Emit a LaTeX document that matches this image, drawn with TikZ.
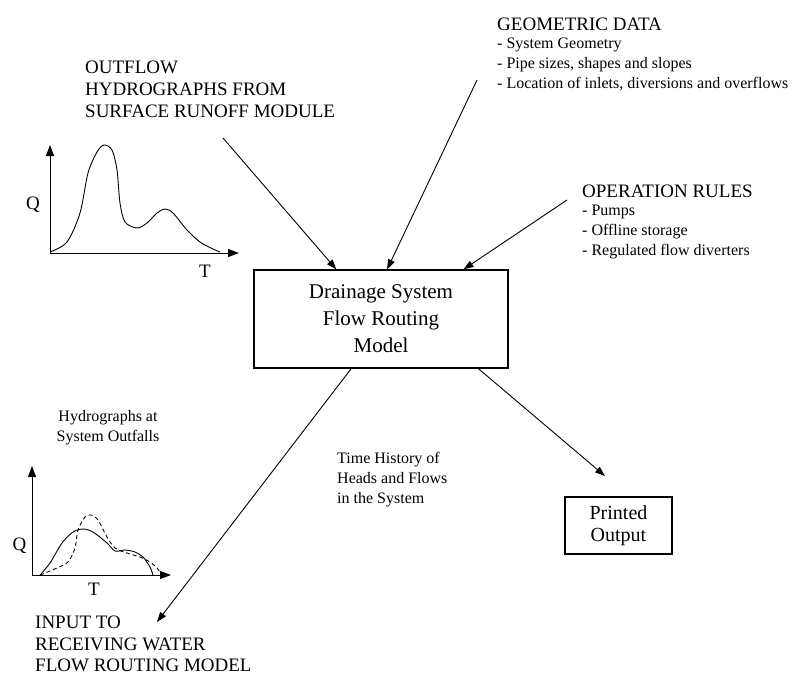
\documentclass[tikz,border=0pt]{standalone}
\usepackage{fontspec}
\setmainfont{Liberation Serif}
\usetikzlibrary{positioning,arrows.meta}

\begin{document}
\begin{tikzpicture}[x=1pt, y=-1pt,
        box/.style={rectangle, draw, line width=1.2pt, align=center, inner sep=0pt},
        caps/.style={font=\fontsize{19}{22}\selectfont, align=left, inner sep=0pt, anchor=north west},
        small/.style={font=\fontsize{16}{20}\selectfont, align=left, inner sep=0pt, anchor=north west},
        axlabel/.style={font=\fontsize{19}{19}\selectfont, inner sep=0pt},
        arr/.style={-{Triangle[length=10pt,width=7pt]}, line width=0.9pt},
        axis/.style={-{Triangle[length=11pt,width=8pt]}, line width=1pt}]
        \useasboundingbox (0,0) rectangle (794,678);

        \node (model) [box, minimum width=254pt, minimum height=98pt, font=\fontsize{21}{27}\selectfont] at (381,319) {Drainage System\\Flow Routing\\Model};
        \node (printed) [box, minimum width=107pt, minimum height=57pt, font=\fontsize{20}{22}\selectfont] at (618.5,525.5) {Printed\\Output};

        \node (outflow) [caps] at (85,61) {OUTFLOW\\HYDROGRAPHS FROM\\SURFACE RUNOFF MODULE};
        \node (geomtitle) [caps] at (497,18) {GEOMETRIC DATA};
        \node (geomlist) [small, below=7pt of geomtitle.south west, anchor=north west] {- System Geometry\\- Pipe sizes, shapes and slopes\\- Location of inlets, diversions and overflows};
        \node (rulestitle) [caps] at (582,185) {OPERATION RULES};
        \node (ruleslist) [small, below=7pt of rulestitle.south west, anchor=north west] {- Pumps\\- Offline storage\\- Regulated flow diverters};
        \node (history) [small] at (337,452) {Time History of\\Heads and Flows\\in the System};
        \node (outfalls) [small, align=center, anchor=north] at (108,410) {Hydrographs at\\System Outfalls};
        \node (input) [caps, font=\fontsize{19}{21.5}\selectfont] at (35,616) {INPUT TO\\RECEIVING WATER\\FLOW ROUTING MODEL};

        % inflow hydrograph
        \draw[axis] (50,253) -- (50,145);
        \draw[axis] (50,253) -- (239,253);
        \node (q1) [axlabel] at (33,205) {Q};
        \node (t1) [axlabel] at (205,271) {T};
        \draw[line width=0.9pt] plot[smooth] coordinates {(50,252) (67,242) (80,213) (88,173) (97,152) (104,145) (112,150) (117,170) (120,203) (125,222) (137,228) (147,223) (157,213) (165,209) (173,213) (187,230) (200,242) (213,249) (220,252)};

        % outfall hydrographs
        \draw[axis] (32,575) -- (32,466);
        \draw[axis] (32,575) -- (171,575);
        \node (q2) [axlabel] at (19.5,546) {Q};
        \node (t2) [axlabel] at (94,589) {T};
        \draw[line width=0.9pt] plot[smooth] coordinates {(40,575) (50,563) (62,543) (73,532) (83,529) (93,532) (107,543) (115,551) (125,550) (135,552) (143,557) (150,567) (153,575)};
        \draw[line width=0.9pt, dash pattern=on 4pt off 3pt] plot[smooth] coordinates {(40,575) (57,568) (68,562) (75,548) (78,530) (85,517) (91,515) (98,520) (107,537) (115,548) (127,553) (140,557) (150,562) (157,568) (162,575)};

        \coordinate (outflowtail) at (223,138);
        \coordinate (geomtail) at (477,80);
        \coordinate (rulestail) at (567,200);
        \coordinate (inputtip) at (157,622);
        \coordinate (printtip) at (605,476);

        \draw[arr] (outflowtail) -- (model.132);
        \draw[arr] (geomtail) -- (model.83);
        \draw[arr] (rulestail) -- (model.31);
        \draw[arr] (model.239) -- (inputtip);
        \draw[arr] (model.333) -- (printtip);
\end{tikzpicture}
\end{document}
